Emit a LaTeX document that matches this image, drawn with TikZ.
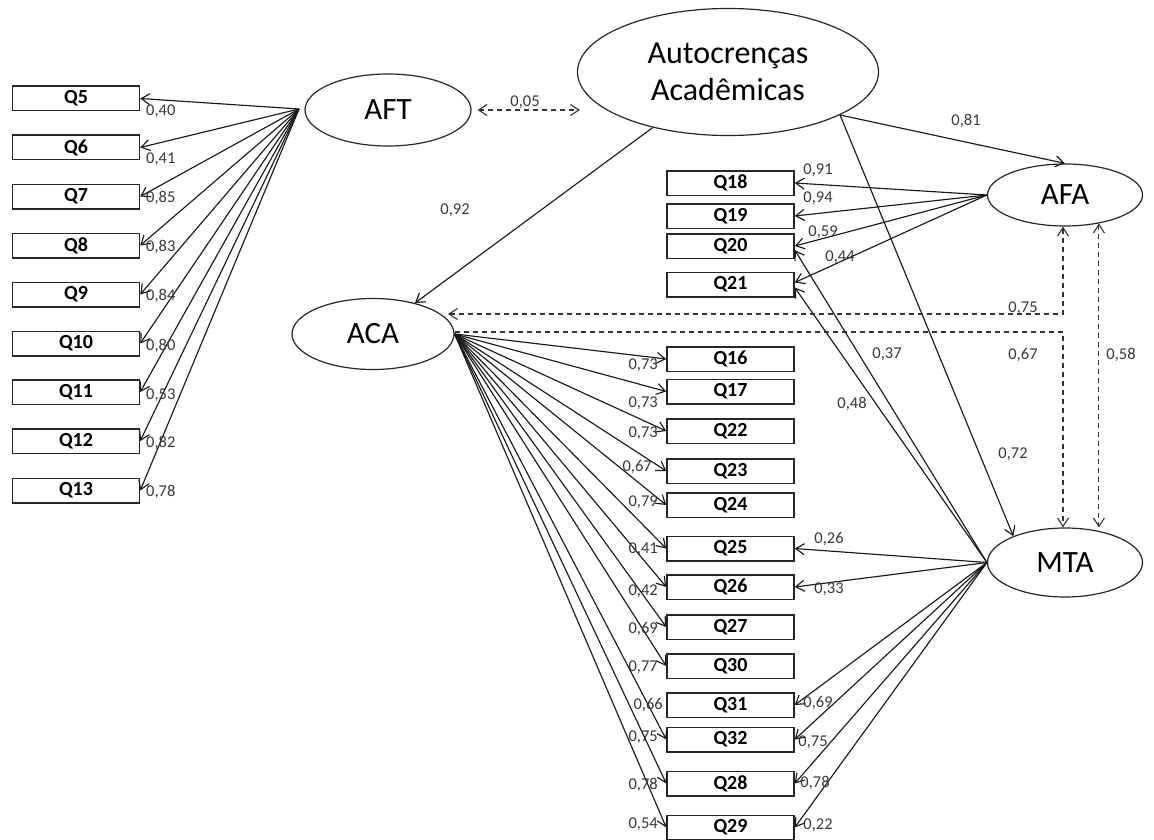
\documentclass[tikz,border=0pt]{standalone}
\usepackage{fontspec}
\setmainfont{Carlito}
\usetikzlibrary{arrows.meta,shapes.geometric}
\begin{document}
\begin{tikzpicture}[x=1pt,y=-1pt,
  >={Straight Barb[length=8.5pt,width=11pt]},
  lat/.style={draw=black!85,line width=1.2pt,ellipse,inner sep=0pt,font=\fontsize{31}{38}\selectfont},
  qbox/.style={draw=black!85,line width=1.5pt,minimum width=127pt,minimum height=24.5pt,inner sep=0pt,font=\fontsize{20}{22}\selectfont\bfseries},
  lbl/.style={inner sep=0pt,text=black!78,font=\fontsize{16.5}{18}\selectfont},
  conn/.style={draw=black!90,line width=1.15pt,->},
  corr/.style={draw=black!80,line width=1.1pt,dash pattern=on 5pt off 4pt},
]
\fill[white] (0,0) rectangle (1154,840);
\useasboundingbox (0,0) rectangle (1154,840);

% latent variables
\node[lat,minimum width=166pt,minimum height=72pt] (aft) at (388,110) {AFT};
\node[lat,minimum width=301pt,minimum height=127pt,align=center,font=\fontsize{32}{37}\selectfont] (auto) at (728,72) {Autocrenças\\Acadêmicas};
\node[lat,minimum width=162pt,minimum height=71pt] (aca) at (373,334) {ACA};
\node[lat,minimum width=155pt,minimum height=62pt] (afa) at (1065,195) {AFA};
\node[lat,minimum width=155pt,minimum height=69pt] (mta) at (1065,562.5) {MTA};

% indicator boxes
\foreach \n/\y in {5/98.5,6/147.5,7/196.5,8/245.5,9/294.5,10/343.5,11/392,12/441,13/490.5}
  \node[qbox] (q\n) at (76,\y) {Q\n};
\foreach \n/\y in {18/183,19/216,20/246,21/284.5,16/359,17/391.5,22/431,23/471,24/505,25/548.5,26/587,27/627,30/666,31/705,32/739.5,28/783.5,29/827.5}
  \node[qbox] (q\n) at (730.5,\y) {Q\n};

% AFT loadings
\coordinate (aftL) at (299,109);
\foreach \n in {5,...,13}
  \draw[conn] (aftL) -- (q\n.east);
\foreach \n/\t/\y in {5/{0,40}/111,6/{0,41}/159,7/{0,85}/198,8/{0,83}/247,9/{0,84}/296,10/{0,80}/346,11/{0,53}/395,12/{0,82}/443,13/{0,78}/492}
  \node[lbl,anchor=west] (wl\n) at (146,\y) {\t};

% AFA loadings
\draw[conn] (afa.west) -- (q18.east);
\draw[conn] (afa.west) -- (q19.east);
\draw[conn] (afa.west) -- (q20.east);
\draw[conn] (afa.west) -- ([yshift=2pt]q21.east);
\node[lbl] (la18) at (818,170) {0,91};
\node[lbl] (la19) at (818,198) {0,94};
\node[lbl] (la20) at (823,232) {0,59};
\node[lbl] (la21) at (840,257) {0,44};

% ACA loadings
\foreach \n in {16,17,22,23,24,25,26,27,30,32,28,29}
  \draw[conn] (aca.east) -- (q\n.west);
\foreach \n/\t/\y in {16/{0,73}/365,17/{0,73}/403.5,22/{0,73}/433.5,24/{0,79}/502,25/{0,41}/549,26/{0,42}/591,27/{0,69}/629,30/{0,77}/667,32/{0,75}/737,28/{0,78}/785,29/{0,54}/824}
  \node[lbl,anchor=east] (lc\n) at (658,\y) {\t};
\node[lbl,anchor=east] (lc23) at (652,467) {0,67};
\node[lbl,anchor=east] (lc31) at (663,705) {0,66};

% MTA loadings
\draw[conn] (mta.west) -- ([yshift=-4pt]q20.east);
\draw[conn] (mta.west) -- ([yshift=-3pt]q21.east);
\foreach \n in {25,26,31,32,28,29}
  \draw[conn] (mta.west) -- (q\n.east);
\node[lbl] (lm20) at (887,354) {0,37};
\node[lbl] (lm21) at (852,404) {0,48};
\node[lbl] (lm25) at (829,539) {0,26};
\node[lbl] (lm26) at (829,589) {0,33};
\node[lbl] (lm31) at (818,703) {0,69};
\node[lbl] (lm32) at (813,742) {0,75};
\node[lbl] (lm28) at (815,783) {0,78};
\node[lbl] (lm29) at (818,825) {0,22};

% structural paths
\draw[conn] (auto) -- (aca);
\draw[conn] (auto.-21) -- (afa.north);
\draw[conn] (auto.-21) -- (mta.153);
\node[lbl] (s1) at (455,210) {0,92};
\node[lbl] (s2) at (966,121) {0,81};
\node[lbl] (s3) at (1013,454) {0,72};

% correlations
\draw[corr,<->] ([xshift=6pt]aft.east) -- ([xshift=3pt,yshift=-38pt]auto.west);
\node[lbl] (c1) at (525,102) {0,05};
\coordinate (acaT) at (448,314);
\draw[corr,<->] (acaT) -| ([xshift=-2pt]afa.south);
\draw[corr,->] ([yshift=2pt]aca.east) -| ([xshift=-2pt]mta.north);
\draw[corr,<->] (afa.-40) -- (afa.-40 |- mta.north);
\node[lbl] (c2) at (1023,308) {0,75};
\node[lbl] (c3) at (1023,355) {0,67};
\node[lbl] (c4) at (1121,355) {0,58};
\end{tikzpicture}
\end{document}
